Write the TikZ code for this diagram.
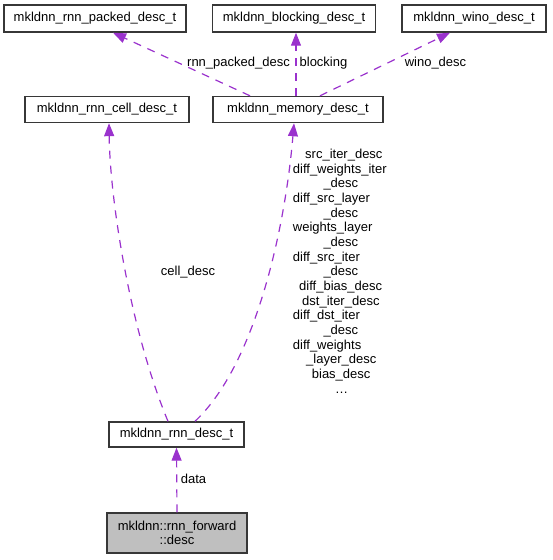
\documentclass[tikz,border=0pt]{standalone}
\usepackage{fontspec}
\setmainfont{Liberation Sans}
\usetikzlibrary{arrows.meta}
\definecolor{edgecol}{RGB}{154,50,205}
\definecolor{boxline}{RGB}{55,55,55}
\definecolor{fwdfill}{RGB}{191,191,191}
\tikzset{
  cls/.style={draw=boxline, line width=1.4pt, fill=white, inner sep=0pt, minimum height=26pt, align=center,
    font=\fontsize{13}{14}\selectfont},
  edge/.style={draw=edgecol, line width=1.2pt, dash pattern=on 8pt off 7pt,
    -{Triangle[length=13pt,width=10pt]}, shorten >=0pt},
  lbl/.style={inner sep=0pt, font=\fontsize{13}{14.65}\selectfont, anchor=base},
}
\begin{document}
\begin{tikzpicture}[x=1pt,y=-1pt]
\path[use as bounding box] (0,0) rectangle (552,560);
% boxes
\node[cls, minimum width=182pt, minimum height=27pt] (packed) at (95,18.5) {mkldnn\_rnn\_packed\_desc\_t};
\node[cls, minimum width=163pt, minimum height=27pt] (blocking) at (294,18.5) {mkldnn\_blocking\_desc\_t};
\node[cls, minimum width=144pt, minimum height=27pt] (wino) at (474,18.5) {mkldnn\_wino\_desc\_t};
\node[cls, minimum width=164pt] (cell) at (107,109.5) {mkldnn\_rnn\_cell\_desc\_t};
\node[cls, minimum width=170pt] (mem) at (298,109.5) {mkldnn\_memory\_desc\_t};
\node[cls, minimum width=135pt, minimum height=25pt] (rnn) at (176.5,434.5) {mkldnn\_rnn\_desc\_t};
\node[cls, fill=fwdfill, minimum width=140pt, minimum height=40pt, font=\fontsize{13}{13.8}\selectfont] (fwd) at (177,533) {mkldnn::rnn\_forward\\::desc};
% edges
\draw[edge] ([xshift=-48pt]mem.north) -- ([xshift=18pt]packed.south);
\draw[edge] ([xshift=-2pt]mem.north) -- ([xshift=2pt]blocking.south);
\draw[edge] ([xshift=22pt]mem.north) -- ([xshift=-24pt]wino.south);
\draw[edge] ([xshift=-8.5pt]rnn.north) .. controls (130,330) and (110,200) .. ([xshift=2pt]cell.south);
\draw[edge] ([xshift=18.5pt]rnn.north) .. controls (255,365) and (285,230) .. ([xshift=-4pt]mem.south);
\draw[edge] (fwd.north) -- (rnn.south);
% labels
\node[lbl] (lpacked) at (238.5,66.5) {rnn\_packed\_desc};
\node[lbl] (lblocking) at (323.5,66.5) {blocking};
\node[lbl] (lwino) at (435.5,66.5) {wino\_desc};
\node[lbl] (lcell) at (188,275.5) {cell\_desc};
\node[lbl] (ldata) at (193.5,483.5) {data};
\node[lbl, anchor=north west, align=left] (lmem) at (292.7,149) {%
\hspace*{12.3pt}src\_iter\_desc\\
diff\_weights\_iter\\
\hspace*{30.6pt}\_desc\\
diff\_src\_layer\\
\hspace*{30.6pt}\_desc\\
weights\_layer\\
\hspace*{30.6pt}\_desc\\
diff\_src\_iter\\
\hspace*{30.6pt}\_desc\\
\hspace*{6.3pt}diff\_bias\_desc\\
\hspace*{9.3pt}dst\_iter\_desc\\
diff\_dst\_iter\\
\hspace*{30.6pt}\_desc\\
diff\_weights\\
\hspace*{13.3pt}\_layer\_desc\\
\hspace*{19pt}bias\_desc\\
\hspace*{42.3pt}…};
\end{tikzpicture}
\end{document}
